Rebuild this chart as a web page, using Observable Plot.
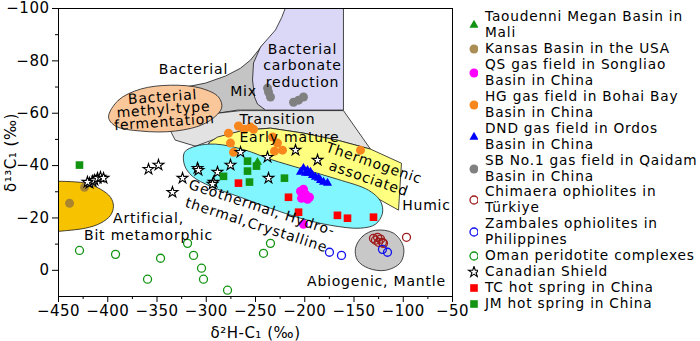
<!DOCTYPE html>
<html><head><meta charset="utf-8">
<script src="https://cdn.jsdelivr.net/npm/d3@7"></script>
<script src="https://cdn.jsdelivr.net/npm/@observablehq/plot@0.6"></script>
<style>
html,body{margin:0;padding:0;background:#fff;overflow:hidden;}
body{font-family:"DejaVu Sans",sans-serif;}
#wrap{position:relative;width:700px;height:341px;}
#chart{position:absolute;left:0;top:0;}
#chart svg text{letter-spacing:0.5px;}
#chart svg g[aria-label="text"] text{letter-spacing:0.8px;}
#legend{position:absolute;left:458px;top:9px;font-size:13.7px;line-height:15.95px;letter-spacing:0.8px;color:#000;white-space:nowrap;}
.item{display:flex;align-items:center;}
.item svg{flex:none;width:20px;height:12px;margin-right:7px;}
.item span{display:block;white-space:pre;}
</style></head><body>
<div id="wrap"><div id="chart"></div><div id="legend"></div></div>
<script>
// ---- data (δ2H-C1 ‰, δ13C1 ‰) ----
const taoudenni = [[-248.0,-41.3]];
const kansas = [[-438.8,-25.6],[-423.6,-31.7]];
const qs = [[-204.3,-30.2],[-201.3,-31.0],[-199.2,-29.1],[-203.3,-27.5],[-197.2,-27.1],[-195.2,-27.9],[-201.3,-17.6]];
const hg = [[-277.4,-52.4],[-267.3,-55.1],[-261.2,-53.9],[-255.1,-54.7],[-252.0,-53.9],[-275.4,-48.6],[-272.3,-45.1],[-232.7,-50.9],[-227.7,-48.6],[-230.7,-45.5],[-222.6,-45.9],[-143.4,-45.9]];
const dnd = [[-204.3,-37.5],[-201.3,-39.0],[-197.2,-38.2],[-196.2,-37.1],[-192.1,-36.3],[-189.1,-35.6],[-186.0,-35.2],[-184.0,-34.4],[-180.9,-33.7],[-176.9,-33.3],[-199.2,-37.1],[-194.2,-37.5]];
const sb = [[-236.8,-68.1],[-234.8,-66.2],[-211.4,-64.2],[-206.3,-65.0],[-201.3,-66.2],[-237.8,-69.6]];
const chimaera = [[-130.2,-12.2],[-126.1,-12.6],[-123.1,-11.9],[-121.1,-10.7],[-125.1,-10.7],[-128.2,-11.5],[-120.1,-10.3],[-96.7,-12.6]];
const zambales = [[-174.9,-6.9],[-162.7,-5.7],[-121.1,-8.0],[-116.0,-6.9]];
const oman = [[-428.7,-7.6],[-392.1,-6.1],[-346.4,-4.6],[-359.6,3.4],[-319.0,-10.3],[-312.9,-5.7],[-304.8,-0.8],[-302.8,3.4],[-278.4,7.6],[-234.8,-10.3],[-241.9,-6.5]];
const canadian = [[-418.5,-33.3],[-415.5,-34.0],[-413.5,-34.4],[-410.4,-35.2],[-407.4,-35.6],[-404.3,-35.2],[-420.6,-33.7],[-358.6,-38.6],[-348.5,-40.2],[-324.1,-35.2],[-334.3,-29.8],[-308.9,-39.0],[-307.9,-38.2],[-288.6,-37.5],[-275.4,-40.2],[-265.2,-45.1],[-237.8,-43.2],[-236.8,-35.2],[-292.6,-33.7],[-293.6,-32.9],[-209.4,-45.9],[-187.0,-42.1]];
const tc = [[-267.3,-33.3],[-216.5,-27.9],[-206.3,-22.2],[-166.8,-21.0],[-156.6,-19.9],[-130.2,-20.3]];
const jm = [[-428.7,-40.2],[-258.1,-41.7],[-249.0,-39.8],[-258.1,-37.9],[-282.5,-35.9],[-256.1,-33.7],[-220.6,-35.2]];

// ---- genetic field outlines (data units) ----
const mixZone = [[-242.9,-86.0],[-255.1,-80.3],[-265.2,-77.2],[-280.5,-74.2],[-300.8,-71.5],[-321.1,-70.0],[-341.4,-68.1],[-346.4,-61.2],[-316.0,-57.4],[-288.6,-60.0],[-268.3,-61.2],[-204.3,-61.2],[-204.3,-80.3]];
const transitionZone = [[-338.3,-55.1],[-310.9,-57.7],[-288.6,-60.0],[-265.2,-61.0],[-160.7,-61.0],[-133.3,-46.3],[-166.8,-49.7],[-201.3,-52.4],[-234.8,-54.3],[-262.2,-53.5],[-288.6,-50.5],[-310.9,-47.4],[-331.2,-49.7]];
const carbonateZone = [[-219.5,-100],[-160.7,-100],[-160.7,-61.2],[-239.8,-61.2],[-248.0,-63.5],[-251.0,-66.2],[-253.0,-72.7],[-252.0,-79.2],[-244.9,-85.3],[-229.7,-91.8],[-223.6,-96.4]];
const fermentZone = [[-399.2,-58.5],[-389.1,-65.0],[-366.8,-69.2],[-336.3,-70.7],[-305.8,-69.6],[-287.6,-66.2],[-284.5,-61.9],[-300.8,-56.2],[-331.2,-53.2],[-366.8,-53.2],[-392.1,-55.1]];
const thermoZone = [[-297.7,-48.6],[-288.6,-50.9],[-262.2,-53.5],[-234.8,-54.3],[-201.3,-52.4],[-166.8,-49.7],[-133.3,-46.3],[-101.8,-40.9],[-104.8,-23.0],[-121.1,-26.4],[-143.4,-31.0],[-173.9,-35.2],[-204.3,-38.6],[-234.8,-42.1],[-265.2,-45.1],[-290.6,-47.0]];
const geoZone = [[-322.1,-45.1],[-310.9,-47.4],[-290.6,-48.2],[-260.2,-45.9],[-234.8,-42.4],[-201.3,-38.6],[-166.8,-34.8],[-135.3,-30.6],[-123.1,-26.4],[-121.1,-21.8],[-128.2,-17.6],[-143.4,-16.1],[-173.9,-17.2],[-204.3,-19.9],[-234.8,-23.7],[-265.2,-27.9],[-295.7,-32.1],[-314.0,-35.9],[-322.1,-40.2]];
const abioZone = [[-148.5,-8.4],[-141.3,-13.0],[-128.2,-15.3],[-109.9,-14.2],[-99.7,-8.8],[-102.8,-3.0],[-118.0,0],[-135.3,-0.8],[-146.4,-3.8]];
const artificialZone = [[-450,-34.0],[-422.6,-33.3],[-407.4,-31.0],[-397.2,-27.9],[-394.2,-24.5],[-397.2,-21.0],[-407.4,-18.0],[-422.6,-16.1],[-450,-14.9]];

// ---- field labels ----
const fieldLabels = ["Bacterial","Mix","Bacterial\ncarbonate\nreduction","Transition","Early mature","Humic","Abiogenic, Mantle","Artificial,\nBit metamorphic"];
const fieldLabelX = [-313.0,-262.2,-202.3,-227.7,-215.5,-76.4,-127.2,-358.6];
const fieldLabelY = [-77.1,-68.4,-78.4,-57.7,-50.9,-24.9,3.8,-16.8];

// ---- ticks ----
const xTicks = [-450,-400,-350,-300,-250,-200,-150,-100,-50];
const xMinor = [-425,-375,-325,-275,-225,-175,-125,-75];
const yTicks = [-100,-80,-60,-40,-20,0];
const yMinor = [-90,-70,-50,-30,-10];

// ---- legend ----
const seriesNames = ["Taoudenni Megan Basin in\nMali","Kansas Basin in the USA","QS gas field in Songliao\nBasin in China","HG gas field in Bohai Bay\nBasin in China","DND gas field in Ordos\nBasin in China","SB No.1 gas field in Qaidam\nBasin in China","Chimaera ophiolites in\nTürkiye","Zambales ophiolites in\nPhilippines","Oman peridotite complexes","Canadian Shield","TC hot spring in China","JM hot spring in China"];

const GREEN = "#129412";
const styles = [
  {data: taoudenni, symbol: "triangle", r: 3.4, fill: GREEN, stroke: "none"},
  {data: kansas, symbol: "circle", r: 4.5, fill: "#9b7a38", stroke: "none", fillOpacity: 0.85},
  {data: qs, symbol: "circle", r: 4.5, fill: "#ff00ff", stroke: "none"},
  {data: hg, symbol: "circle", r: 4.5, fill: "#f7861c", stroke: "none"},
  {data: dnd, symbol: "triangle", r: 3.4, fill: "#0000ff", stroke: "none"},
  {data: sb, symbol: "circle", r: 4.5, fill: "#808080", stroke: "none"},
  {data: chimaera, symbol: "circle", r: 4, fill: "none", stroke: "#9e1a1a", strokeWidth: 1.3},
  {data: zambales, symbol: "circle", r: 4, fill: "none", stroke: "#1010f0", strokeWidth: 1.3},
  {data: oman, symbol: "circle", r: 4, fill: "none", stroke: GREEN, strokeWidth: 1.3},
  {data: canadian, symbol: "star", r: 3.4, fill: "#fff", stroke: "#000", strokeWidth: 1.1},
  {data: tc, symbol: "square", r: 4.3, fill: "#ff0000", stroke: "none"},
  {data: jm, symbol: "square", r: 4.3, fill: GREEN, stroke: "none"}
];

const X = d => d[0], Y = d => d[1];
const EDGE = "#1a1a1a";
function zone(pts, fill, curve) {
  return Plot.line(pts, {x: X, y: Y, fill, stroke: EDGE, strokeWidth: 0.8, curve});
}

const labelTable = fieldLabels.map((t, i) => ({t, x: fieldLabelX[i], y: fieldLabelY[i]}));

const marks = [
  zone(mixZone, "#c4c4c4", "linear-closed"),
  zone(transitionZone, "#e2e2e2", "linear-closed"),
  zone(carbonateZone, "#dad8f6", "linear-closed"),
  zone(fermentZone, "#f9c79a", "catmull-rom-closed"),
  zone(thermoZone, "#ffff80", "linear-closed"),
  zone(geoZone, "#82f6ff", "catmull-rom-closed"),
  zone(abioZone, "#c8c8c8", "catmull-rom-closed"),
  Plot.line(artificialZone, {x: X, y: Y, fill: "#f7c300", stroke: EDGE, strokeWidth: 0.8, curve: "catmull-rom"}),
  Plot.frame({stroke: "#000", strokeWidth: 1}),
  Plot.axisX(xTicks, {tickSize: 6, tickPadding: 3, label: "δ²H-C₁ (‰)", labelAnchor: "center", labelArrow: "none", labelOffset: 41}),
  Plot.axisX(xMinor, {tickSize: 3, text: null, label: null}),
  Plot.axisY(yTicks, {tickSize: 6, tickPadding: 3, label: "δ¹³C₁ (‰)", labelAnchor: "center", labelArrow: "none", labelOffset: 53}),
  Plot.axisY(yMinor, {tickSize: 3, text: null, label: null}),
  ...styles.map(s => Plot.dot(s.data, {x: X, y: Y, symbol: s.symbol, r: s.r, fill: s.fill, stroke: s.stroke, strokeWidth: s.strokeWidth || 1, fillOpacity: s.fillOpacity || 1})),
  Plot.text(labelTable, {x: "x", y: "y", text: "t", fontSize: 14, lineHeight: 1.17, fill: "#000"}),
  Plot.text(["Bacterial\nmethyl-type\nfermentation"], {x: [-343.4], y: [-61.2], text: d => d, fontSize: 14, rotate: -4, lineHeight: 0.9}),
  Plot.text(["Thermogenic\nassociated"], {x: [-132.2], y: [-38.2], text: d => d, fontSize: 14, rotate: 19, lineHeight: 1.17}),
  Plot.text(["Geothermal, Hydro-\nthermal,Crystalline"], {x: [-245.9], y: [-21.0], text: d => d, fontSize: 14, rotate: 18, lineHeight: 1.29})
];

const chart = Plot.plot({
  width: 460, height: 341,
  marginLeft: 58, marginRight: 8, marginTop: 8, marginBottom: 45,
  style: {fontFamily: "DejaVu Sans, sans-serif", fontSize: "15px", background: "#fff", color: "#000", overflow: "visible"},
  x: {domain: [-450, -50]},
  y: {domain: [10, -100]},
  marks
});
document.getElementById("chart").appendChild(chart);

// legend
const legend = d3.select("#legend");
const symMap = {circle: d3.symbolCircle, triangle: d3.symbolTriangle, square: d3.symbolSquare, star: d3.symbolStar};
styles.forEach((s, i) => {
  const row = legend.append("div").attr("class", "item");
  const svg = row.append("svg").attr("viewBox", "0 0 20 12");
  const area = Math.PI * s.r * s.r;
  svg.append("path")
    .attr("transform", "translate(16,6)")
    .attr("d", d3.symbol(symMap[s.symbol], area)())
    .attr("fill", s.fill).attr("stroke", s.stroke)
    .attr("stroke-width", s.strokeWidth || 1)
    .attr("fill-opacity", s.fillOpacity || 1);
  row.append("span").text(seriesNames[i]);
});
</script>
</body></html>
